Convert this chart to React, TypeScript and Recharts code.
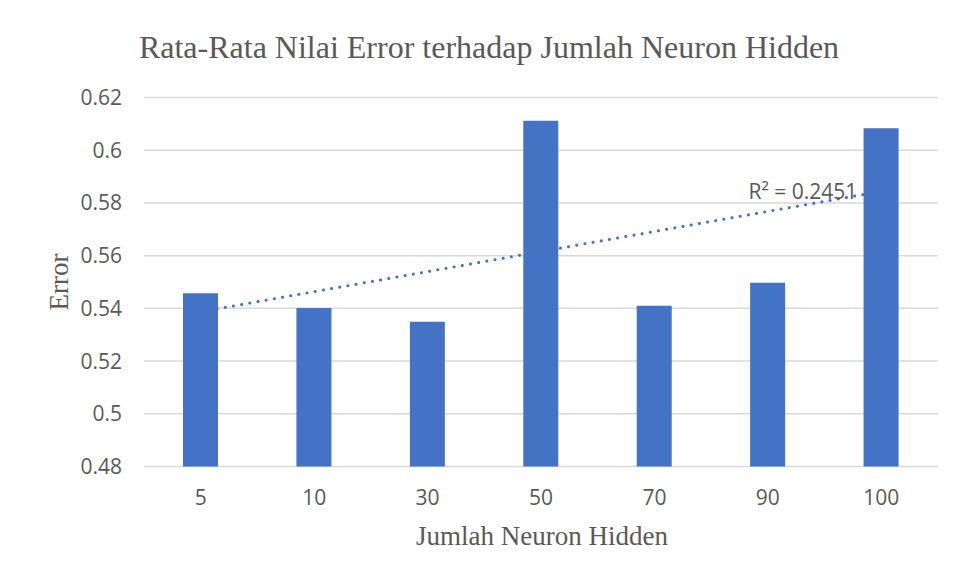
import React from 'react';
import { ComposedChart, Bar, Line, XAxis, YAxis, CartesianGrid, LabelList } from 'recharts';

const neuronLabels = ['5', '10', '30', '50', '70', '90', '100'];
const errorValues = [0.5457, 0.5401, 0.5349, 0.6112, 0.541, 0.5497, 0.6083];
const yTicks = [0.48, 0.5, 0.52, 0.54, 0.56, 0.58, 0.6, 0.62];
const titleText = 'Rata-Rata Nilai Error terhadap Jumlah Neuron Hidden';
const xLabelText = 'Jumlah Neuron Hidden';
const yLabelText = 'Error';
const r2Text = 'R² = 0.2451';

// linear trendline (least squares on category index)
const n = errorValues.length;
const xs = errorValues.map((_, i) => i + 1);
const mx = xs.reduce((a, b) => a + b, 0) / n;
const my = errorValues.reduce((a, b) => a + b, 0) / n;
const slope =
  xs.reduce((s, x, i) => s + (x - mx) * (errorValues[i] - my), 0) /
  xs.reduce((s, x) => s + (x - mx) * (x - mx), 0);
const intercept = my - slope * mx;

const data = neuronLabels.map((label, i) => ({
  label,
  error: errorValues[i],
  trend: intercept + slope * (i + 1),
}));

const GRAY = '#595959';
const BLUE = '#4472C4';

const R2Label = (props: any) => {
  const { x, y, index } = props;
  if (index !== n - 1) return null;
  return (
    <text
      x={x - 24}
      y={y + 8}
      textAnchor="end"
      fill={GRAY}
      fontFamily="'Open Sans', sans-serif"
      fontSize={21}
    >
      {r2Text}
    </text>
  );
};

export default function App() {
  return (
    <div style={{ position: 'relative', width: 950, height: 572 }}>
      <ComposedChart
        width={950}
        height={572}
        data={data}
        margin={{ top: 89.5, right: 20, left: 0, bottom: 0 }}
      >
        <CartesianGrid vertical={false} stroke="#d9d9d9" strokeWidth={1.5} />
        <XAxis
          dataKey="label"
          height={113.5}
          axisLine={false}
          tickLine={false}
          tickSize={0}
          tickMargin={23.5}
          tick={{ fill: GRAY, fontSize: 21, fontFamily: "'Open Sans', sans-serif" }}
        />
        <YAxis
          width={136}
          domain={[0.48, 0.62]}
          ticks={yTicks}
          interval={0}
          axisLine={false}
          tickLine={false}
          tickSize={0}
          tickMargin={22}
          tickFormatter={(v: number) => String(v)}
          tick={{ fill: GRAY, fontSize: 21, fontFamily: "'Open Sans', sans-serif" }}
        />
        <Line
          dataKey="trend"
          type="linear"
          stroke={BLUE}
          strokeWidth={3}
          strokeDasharray="0.1 8.2"
          strokeLinecap="round"
          dot={false}
          activeDot={false}
          isAnimationActive={false}
        >
          <LabelList dataKey="trend" content={R2Label} />
        </Line>
        <Bar dataKey="error" fill={BLUE} barSize={35} isAnimationActive={false} />
      </ComposedChart>
      <svg
        width={958}
        height={580}
        style={{ position: 'absolute', left: -8, top: -8, pointerEvents: 'none' }}
      >
        <line x1={7.5} y1={7.5} x2={958} y2={7.5} stroke="#d9d9d9" strokeWidth={1} />
        <line x1={7.5} y1={7.5} x2={7.5} y2={580} stroke="#d9d9d9" strokeWidth={1} />
        <text
          x={489}
          y={57.5}
          textAnchor="middle"
          fill={GRAY}
          fontFamily="'Liberation Serif', 'Times New Roman', serif"
          fontSize={32}
        >
          {titleText}
        </text>
        <text
          x={542}
          y={545}
          textAnchor="middle"
          fill={GRAY}
          fontFamily="'Liberation Serif', 'Times New Roman', serif"
          fontSize={27}
        >
          {xLabelText}
        </text>
        <text
          x={68}
          y={282}
          textAnchor="middle"
          transform="rotate(-90 68 282)"
          fill={GRAY}
          fontFamily="'Liberation Serif', 'Times New Roman', serif"
          fontSize={27}
        >
          {yLabelText}
        </text>
      </svg>
    </div>
  );
}
